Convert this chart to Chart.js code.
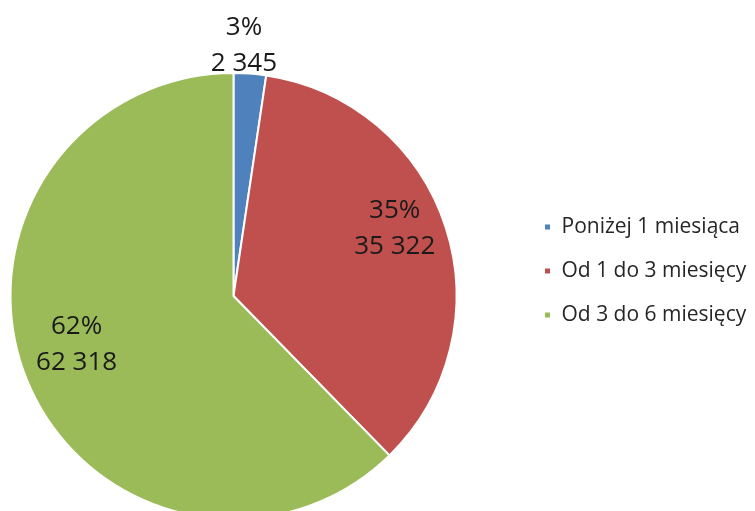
<!DOCTYPE html>
<html>
<head>
<meta charset="utf-8">
<script src="https://cdn.jsdelivr.net/npm/chart.js@4"></script>
<style>
  html, body { margin: 0; padding: 0; background: #fff; overflow: hidden; }
  #wrap { width: 755px; height: 530px; }
</style>
</head>
<body>
<div id="wrap"><canvas id="chart"></canvas></div>
<script>
const categories = ['Poniżej 1 miesiąca', 'Od 1 do 3 miesięcy', 'Od 3 do 6 miesięcy'];
const counts = [2345, 35322, 62318];
const percents = [3, 35, 62];
const colors = ['#4F81BD', '#C0504D', '#9BBB59'];

const legendFont = { family: '"Open Sans"', size: 21 };
const labelFont = '26px "Open Sans"';

function formatNumber(n) {
    return String(n).replace(/\B(?=(\d{3})+(?!\d))/g, ' ');
}

// the pie sits in the box left of the legend; reserve room so its centre lands at x=233
const probe = document.createElement('canvas').getContext('2d');
probe.font = legendFont.size + 'px ' + legendFont.family;
const maxText = Math.max(...categories.map(c => probe.measureText(c).width));
const legendWidth = 10 + 24 + 7 + legendFont.size / 2 + maxText;
const rightPad = 755 - 466 - legendWidth;

// then move the legend itself to where the reference has it
const legendShift = {
    id: 'legendShift',
    afterLayout(chart) {
        const lg = chart.legend;
        const dx = 544 - (lg.left + lg.options.labels.padding);
        const dy = -25;
        lg.left += dx; lg.right += dx;
        lg.top += dy; lg.bottom += dy;
    }
};

const pieLabels = {
    id: 'pieLabels',
    afterDatasetsDraw(chart) {
        const ctx = chart.ctx;
        const meta = chart.getDatasetMeta(0);
        ctx.save();
        ctx.font = labelFont;
        ctx.fillStyle = '#1a1a1a';
        ctx.textAlign = 'center';
        ctx.textBaseline = 'middle';
        meta.data.forEach((arc, i) => {
            const p = arc.getProps(['x', 'y', 'startAngle', 'endAngle', 'outerRadius'], true);
            const mid = (p.startAngle + p.endAngle) / 2;
            const small = p.endAngle - p.startAngle < 0.3;
            let cx, cy;
            if (small) {
                const r = p.outerRadius + 28;
                cx = p.x + Math.cos(mid) * r - 8;
                cy = p.y + Math.sin(mid) * r;
            } else {
                const r = p.outerRadius * 0.76;
                cx = p.x + Math.cos(mid) * r;
                cy = p.y + Math.sin(mid) * r - 15;
            }
            ctx.fillText(percents[i] + '%', cx, cy - 18);
            ctx.fillText(formatNumber(counts[i]), cx, cy + 18);
        });
        ctx.restore();
    }
};

new Chart(document.getElementById('chart'), {
    type: 'pie',
    data: {
        labels: categories,
        datasets: [{
            data: counts,
            backgroundColor: colors,
            borderColor: '#FFFFFF',
            borderWidth: 2
        }]
    },
    options: {
        responsive: true,
        maintainAspectRatio: false,
        animation: false,
        layout: {
            padding: { left: 0, top: 72, bottom: 10, right: rightPad }
        },
        plugins: {
            tooltip: { enabled: false },
            legend: {
                position: 'right',
                align: 'center',
                labels: {
                    boxWidth: 7,
                    boxHeight: 7,
                    padding: 23,
                    color: '#262626',
                    font: legendFont
                }
            }
        }
    },
    plugins: [legendShift, pieLabels]
});
</script>
</body>
</html>
